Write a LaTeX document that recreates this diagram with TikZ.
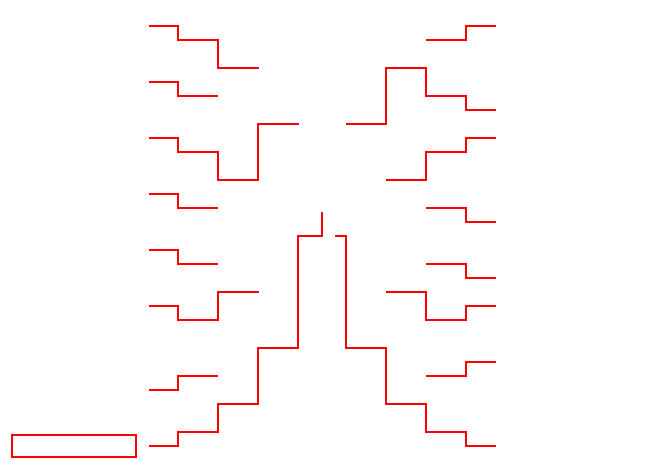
\documentclass[tikz,border=0pt]{standalone}
\begin{document}
\begin{tikzpicture}[x=1pt,y=-1pt,
  bracket/.style={draw=red,line width=2pt,line join=miter}]
\useasboundingbox (0,0) rectangle (645,459);
% left side
\draw[bracket] (149,26) -- (178,26) -- (178,40) -- (218,40) -- (218,68) -- (259,68);
\draw[bracket] (149,82) -- (178,82) -- (178,96) -- (218,96);
\draw[bracket] (149,138) -- (178,138) -- (178,152) -- (218,152) -- (218,180) -- (258,180) -- (258,124) -- (299,124);
\draw[bracket] (149,194) -- (178,194) -- (178,208) -- (218,208);
\draw[bracket] (149,250) -- (178,250) -- (178,264) -- (218,264);
\draw[bracket] (149,306) -- (178,306) -- (178,320) -- (218,320) -- (218,292) -- (259,292);
\draw[bracket] (149,390) -- (178,390) -- (178,376) -- (218,376);
\draw[bracket] (149,446) -- (178,446) -- (178,432) -- (218,432) -- (218,404) -- (258,404) -- (258,348) -- (298,348) -- (298,236) -- (322,236) -- (322,212);
% right side
\draw[bracket] (496,26) -- (466,26) -- (466,40) -- (426,40);
\draw[bracket] (346,124) -- (386,124) -- (386,68) -- (426,68) -- (426,96) -- (466,96) -- (466,110) -- (496,110);
\draw[bracket] (386,180) -- (426,180) -- (426,152) -- (466,152) -- (466,138) -- (496,138);
\draw[bracket] (426,208) -- (466,208) -- (466,222) -- (496,222);
\draw[bracket] (426,264) -- (466,264) -- (466,278) -- (496,278);
\draw[bracket] (386,292) -- (426,292) -- (426,320) -- (466,320) -- (466,306) -- (496,306);
\draw[bracket] (426,376) -- (466,376) -- (466,362) -- (496,362);
\draw[bracket] (335,236) -- (346,236) -- (346,348) -- (386,348) -- (386,404) -- (426,404) -- (426,432) -- (466,432) -- (466,446) -- (496,446);
% box
\draw[bracket] (12,435) rectangle (136,457);
\end{tikzpicture}
\end{document}
